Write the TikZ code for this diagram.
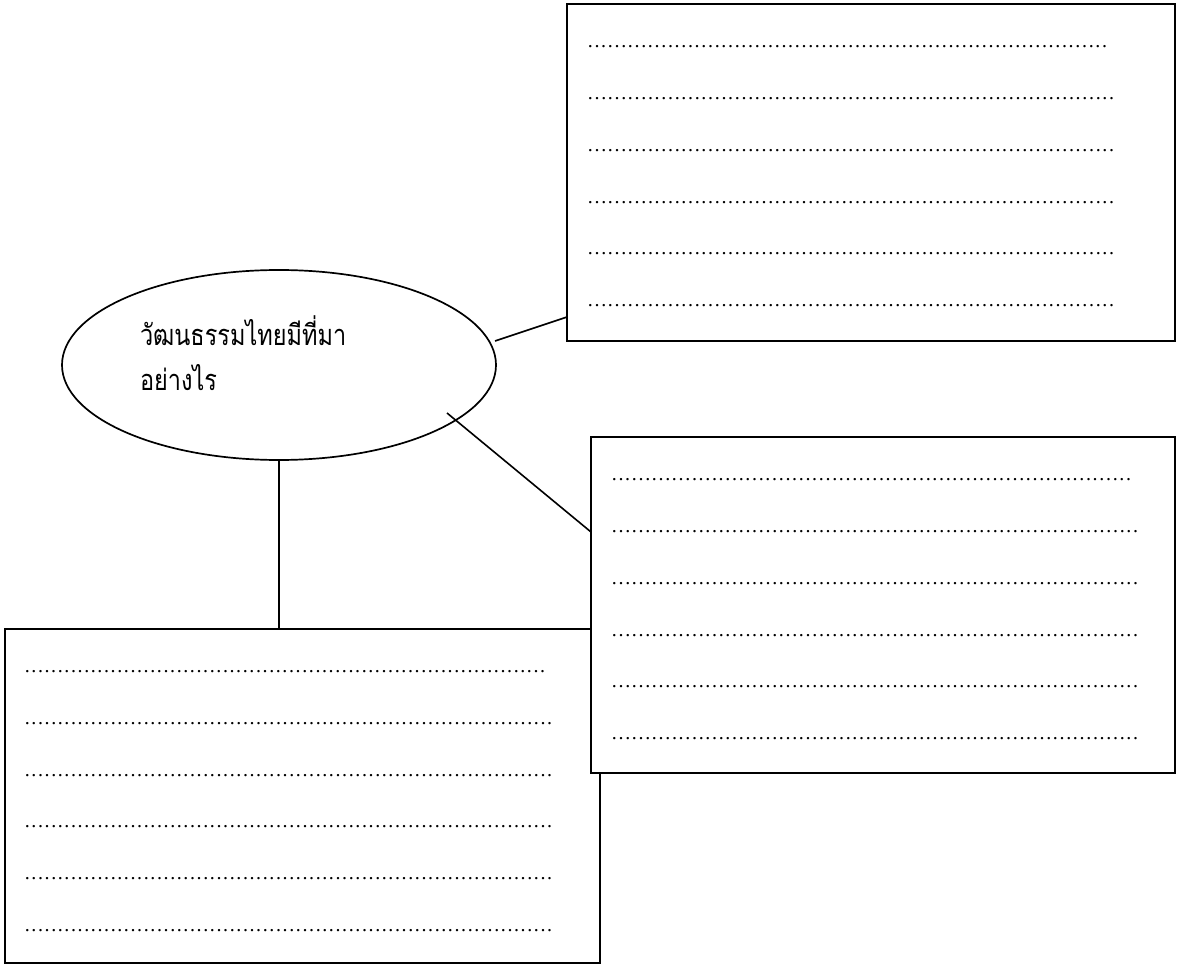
\documentclass[tikz,border=0pt]{standalone}
\usepackage{fontspec}
\setmainfont{Liberation Serif}
\newfontfamily\thaifont[Script=Thai,FakeStretch=0.81]{Loma}
\newcommand\dotrow[1]{\hbox to #1{\xleaders\hbox to 6.6pt{\hss.\hss}\hfill}}
\tikzset{
  box/.style={draw, line width=2pt, fill=white},
  conn/.style={line width=1.6pt},
  dots/.style={anchor=base west, inner sep=0pt, outer sep=0pt, font=\fontsize{20}{20}\selectfont},
  thai/.style={anchor=base west, inner sep=0pt, outer sep=0pt, font=\thaifont\fontsize{29}{29}\selectfont},
}
\begin{document}
\begin{tikzpicture}[x=1pt,y=-1pt]
\useasboundingbox (0,0) rectangle (1177,965);
% top-right box
\draw[box] (567,4) rectangle (1175,341);
\node[dots] (a1) at (587,48) {\dotrow{521pt}};
\node[dots] (a2) at (587,100) {\dotrow{528pt}};
\node[dots] (a3) at (587,152) {\dotrow{528pt}};
\node[dots] (a4) at (587,204) {\dotrow{528pt}};
\node[dots] (a5) at (587,255) {\dotrow{528pt}};
\node[dots] (a6) at (587,307) {\dotrow{528pt}};
% ellipse
\draw[line width=1.7pt] (279,365) ellipse [x radius=217, y radius=95];
\node[thai] (t1) at (140,345) {วัฒนธรรมไทยมีที่มา};
\node[thai] (t2) at (140,390) {อย่างไร};
\coordinate (e1) at (495,341);
\coordinate (b1) at (567,317);
\coordinate (e2) at (447,413);
\coordinate (b2) at (591,532);
\coordinate (e3) at (279,460);
\coordinate (b3) at (279,629);
\draw[conn] (e1) -- (b1);
\draw[conn] (e2) -- (b2);
\draw[conn] (e3) -- (b3);
% bottom-left box
\draw[box] (5,629) rectangle (600,963);
\node[dots] (c1) at (24,672) {\dotrow{522pt}};
\node[dots] (c2) at (24,724) {\dotrow{529pt}};
\node[dots] (c3) at (24,776) {\dotrow{529pt}};
\node[dots] (c4) at (24,827) {\dotrow{529pt}};
\node[dots] (c5) at (24,879) {\dotrow{529pt}};
\node[dots] (c6) at (24,931) {\dotrow{529pt}};
% right box (on top)
\draw[box] (591,437) rectangle (1175,773);
\node[dots] (d1) at (611,480) {\dotrow{521pt}};
\node[dots] (d2) at (611,532) {\dotrow{528pt}};
\node[dots] (d3) at (611,584) {\dotrow{528pt}};
\node[dots] (d4) at (611,636) {\dotrow{528pt}};
\node[dots] (d5) at (611,687) {\dotrow{528pt}};
\node[dots] (d6) at (611,739) {\dotrow{528pt}};
\end{tikzpicture}
\end{document}
